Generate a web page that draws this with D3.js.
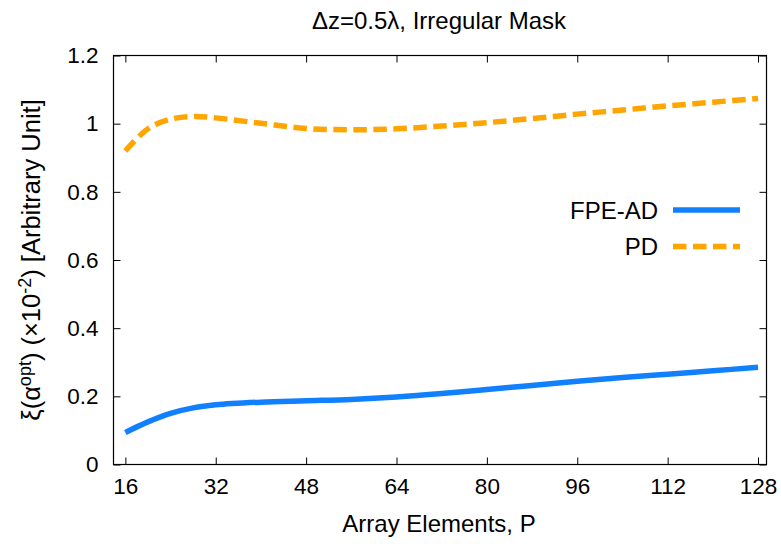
<!DOCTYPE html>
<html>
<head>
<meta charset="utf-8">
<script src="https://cdn.jsdelivr.net/npm/d3@7"></script>
<style>
  html, body { margin: 0; padding: 0; background: #fff; }
  svg { display: block; font-family: "Liberation Sans", Arial, Helvetica, sans-serif; }
</style>
</head>
<body>
<svg id="chart" width="781" height="544"></svg>
<script>
// Array sizes P and the optimal-regularisation error for each method
const elements = [16, 20, 24, 28, 32, 40, 48, 56, 64, 72, 80, 88, 96, 104, 112, 120, 128];
const fpeAD = [0.094, 0.125, 0.150, 0.166, 0.175, 0.183, 0.187, 0.191, 0.198, 0.208, 0.220, 0.232, 0.244, 0.255, 0.265, 0.275, 0.285];
const pd    = [0.920, 0.985, 1.013, 1.021, 1.017, 1.001, 0.986, 0.982, 0.985, 0.993, 1.003, 1.015, 1.028, 1.040, 1.052, 1.063, 1.074];

const xTicks = [16, 32, 48, 64, 80, 96, 112, 128];
const yTicks = [0, 0.2, 0.4, 0.6, 0.8, 1, 1.2];
const seriesNames = ["FPE-AD", "PD"];

const frame = { left: 113.5, right: 766.5, top: 55.5, bottom: 464.5 };
const tickFont = 22.5;
const labelFont = 24;
const tickLen = 7;

const svg = d3.select("#chart");

const x = d3.scaleLinear().domain([13.9, 129.5]).range([frame.left, frame.right]);
const y = d3.scaleLinear().domain([0, 1.2]).range([frame.bottom, frame.top]);

const series = [
  { name: seriesNames[0], values: fpeAD, color: "#1080ff", dash: null },
  { name: seriesNames[1], values: pd,    color: "#ffa500", dash: "13.5,6.5" }
];

// Curves
const line = d3.line()
  .x(d => x(d[0]))
  .y(d => y(d[1]))
  .curve(d3.curveCatmullRom.alpha(0.5));

const plot = svg.append("g");
plot.append("clipPath").attr("id", "clip")
  .append("rect")
  .attr("x", frame.left).attr("y", frame.top)
  .attr("width", frame.right - frame.left).attr("height", frame.bottom - frame.top);

series.forEach(s => {
  plot.append("path")
    .datum(elements.map((p, i) => [p, s.values[i]]))
    .attr("d", line)
    .attr("fill", "none")
    .attr("stroke", s.color)
    .attr("stroke-width", 5.5)
    .attr("stroke-dasharray", s.dash)
    .attr("clip-path", "url(#clip)");
});

// Axes with inward ticks, mirrored on the opposite sides
const axisBottom = d3.axisBottom(x).tickValues(xTicks).tickSize(-tickLen).tickPadding(14).tickFormat(d3.format("d"));
const axisTop = d3.axisTop(x).tickValues(xTicks).tickSize(-tickLen).tickFormat("");
const axisLeft = d3.axisLeft(y).tickValues(yTicks).tickSize(-tickLen).tickPadding(15).tickFormat(d => d3.format("")(+d.toFixed(1)));
const axisRight = d3.axisRight(y).tickValues(yTicks).tickSize(-tickLen).tickFormat("");

function styleAxis(g) {
  g.select(".domain").remove();
  g.selectAll(".tick line").attr("stroke", "#000").attr("stroke-width", 1);
  g.selectAll(".tick text").attr("fill", "#000").attr("font-size", tickFont).attr("font-family", "Liberation Sans, Arial, sans-serif");
}

svg.append("g").attr("transform", `translate(0,${frame.bottom})`).call(axisBottom).call(styleAxis);
svg.append("g").attr("transform", `translate(0,${frame.top})`).call(axisTop).call(styleAxis);
svg.append("g").attr("transform", `translate(${frame.left},0)`).call(axisLeft).call(styleAxis);
svg.append("g").attr("transform", `translate(${frame.right},0)`).call(axisRight).call(styleAxis);

// Border
svg.append("rect")
  .attr("x", frame.left).attr("y", frame.top)
  .attr("width", frame.right - frame.left).attr("height", frame.bottom - frame.top)
  .attr("fill", "none").attr("stroke", "#000").attr("stroke-width", 1.2);

// Title
svg.append("text")
  .attr("x", (frame.left + frame.right) / 2 - 1).attr("y", 29)
  .attr("text-anchor", "middle").attr("font-size", labelFont)
  .text("\u0394z=0.5\u03bb, Irregular Mask");

// X axis label
svg.append("text")
  .attr("x", (frame.left + frame.right) / 2 - 1).attr("y", 532)
  .attr("text-anchor", "middle").attr("font-size", labelFont)
  .text("Array Elements, P");

// Y axis label with superscripts
const yl = svg.append("text")
  .attr("transform", `translate(40,${(frame.top + frame.bottom) / 2}) rotate(-90)`)
  .attr("text-anchor", "middle").attr("font-size", 25.5);
yl.append("tspan").text("\u03be(\u03b1");
yl.append("tspan").attr("dy", -9).attr("font-size", 18).text("opt");
yl.append("tspan").attr("dy", 9).text(") (\u00d710");
yl.append("tspan").attr("dy", -9).attr("font-size", 18).text("-2");
yl.append("tspan").attr("dy", 9).text(") [Arbitrary Unit]");

// Legend
const legend = svg.append("g");
const legendRows = [210, 246.5];
series.forEach((s, i) => {
  const ly = legendRows[i];
  legend.append("text")
    .attr("x", 658).attr("y", ly + 8.5)
    .attr("text-anchor", "end").attr("font-size", labelFont)
    .text(s.name);
  legend.append("line")
    .attr("x1", 673).attr("x2", 740)
    .attr("y1", ly).attr("y2", ly)
    .attr("stroke", s.color).attr("stroke-width", 5.5)
    .attr("stroke-dasharray", s.dash);
});
</script>
</body>
</html>
